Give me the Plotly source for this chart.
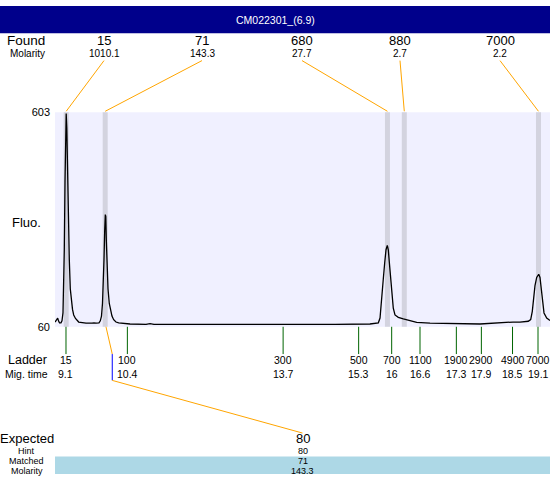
import plotly.graph_objects as go

W, H = 550, 480

# ---------------- data ----------------
trace_time = [8.867, 8.899, 8.924, 8.941, 8.962, 8.994, 9.015, 9.036, 9.051, 9.064,
              9.079, 9.094, 9.104, 9.117, 9.132, 9.149, 9.170, 9.191, 9.212, 9.238,
              9.263, 9.301, 9.369, 9.439, 9.524, 9.651, 9.693, 9.736, 9.799, 9.827,
              9.852, 9.873, 9.890, 9.905, 9.920, 9.933, 9.943, 9.954, 9.969, 9.990,
              10.017, 10.038, 10.074, 10.110, 10.159, 10.217, 10.350, 10.456, 10.795, 10.880,
              10.964, 11.940, 12.998, 14.058, 14.690, 14.800, 15.540, 15.717, 15.753, 15.774,
              15.795, 15.822, 15.852, 15.880, 15.907, 15.928, 15.950, 15.979, 16.007, 16.034,
              16.070, 16.140, 16.246, 16.388, 16.530, 16.812, 17.377, 17.871, 18.570, 18.719,
              18.894, 18.945, 18.979, 19.000, 19.036, 19.072, 19.115, 19.142, 19.170, 19.200,
              19.227, 19.284, 19.354]
trace_fluo = [72, 77, 82, 75, 70, 70, 75, 95, 156, 255,
              428, 576, 600, 563, 452, 329, 230, 156, 127, 104,
              90, 81, 72, 70, 69, 69, 70, 69, 70, 75,
              87, 119, 169, 230, 304, 344, 339, 280, 218, 156,
              119, 104, 87, 78, 72, 70, 68, 67, 66, 68,
              66, 66, 66, 66, 64.5, 66, 67, 70, 82, 107,
              140, 181, 222, 255, 266, 255, 223, 181, 140, 107,
              90, 84, 80, 76, 71, 69, 67, 67, 72, 72,
              74, 78, 99, 132, 164, 185, 193, 185, 156, 115,
              95, 82, 76]

found_size = ["15", "71", "680", "880", "7000"]
found_molarity = ["1010.1", "143.3", "27.7", "2.7", "2.2"]
found_time = [9.104, 9.930, 15.910, 16.267, 19.110]

ladder_size = ["15", "100", "300", "500", "700", "1100", "1900", "2900", "4900", "7000"]
ladder_time_label = ["9.1", "10.4", "13.7", "15.3", "16", "16.6", "17.3", "17.9", "18.5", "19.1"]
ladder_time = [9.1, 10.4, 13.7, 15.3, 16.0, 16.6, 17.37, 17.9, 18.56, 19.1]

expected_size = "80"
hint_size = "80"
matched_size = "71"
matched_molarity = "143.3"
matched_time = 9.930
expected_time = 10.08

y_ticks = [60, 603]
title_text = "CM022301_(6.9)"

# ---------------- layout geometry ----------------
X_RANGE = [8.867, 19.354]
Y_RANGE = [60, 603]
PL, PR, PT, PB = 55, 550, 109, 329  # plot area in pixels

FONT = "Arial, Liberation Sans, sans-serif"
ORANGE = "#FFA500"
GREEN = "#006400"


def px(x):
    return x / W


def py(y):
    return 1 - y / H


def t2px(t):
    return PL + (t - X_RANGE[0]) / (X_RANGE[1] - X_RANGE[0]) * (PR - PL)


def label(text, x, y, size, color="black"):
    return dict(text=text, x=px(x), y=py(y), xref="paper", yref="paper",
                xanchor="center", yanchor="middle", showarrow=False, borderpad=0,
                font=dict(family=FONT, size=size, color=color))


fig = go.Figure()

fig.add_trace(go.Scatter(x=trace_time, y=trace_fluo, mode="lines",
                         line=dict(color="black", width=1.3),
                         hoverinfo="skip", showlegend=False))

shapes = []
annotations = []

# title bar
shapes.append(dict(type="rect", xref="paper", yref="paper", x0=0, x1=1,
                   y0=py(28), y1=1, fillcolor="#00008B", line=dict(width=0), layer="below"))
annotations.append(label(title_text, 275, 14, 10.5, "white"))

# found peak bands + connectors
label_x = [104, 202, 302, 400, 500]
for i, t in enumerate(found_time):
    c = t2px(t)
    shapes.append(dict(type="rect", xref="paper", yref="paper",
                       x0=px(c - 2.5), x1=px(c + 2.5), y0=py(PB), y1=py(PT),
                       fillcolor="#D3D3DF", line=dict(width=0), layer="below"))
    shapes.append(dict(type="line", xref="paper", yref="paper",
                       x0=px(label_x[i]), y0=py(56), x1=px(c), y1=py(PT - 1),
                       line=dict(color=ORANGE, width=1)))
    annotations.append(label(found_size[i], label_x[i], 35, 13))
    annotations.append(label(found_molarity[i], label_x[i], 49, 10))

annotations.append(label("Found", 26, 35, 13.5))
annotations.append(label("Molarity", 27, 49, 10))
annotations.append(label("Fluo.", 26.5, 222, 13))

# ladder ticks and labels
for i, t in enumerate(ladder_time):
    c = t2px(t)
    shapes.append(dict(type="line", xref="paper", yref="paper",
                       x0=px(c), x1=px(c), y0=py(PB), y1=py(357),
                       line=dict(color=GREEN, width=1)))
    annotations.append(label(ladder_size[i], c, 363, 10.5))
    annotations.append(label(ladder_time_label[i], c, 377, 10.5))

annotations.append(label("Ladder", 27, 363, 12.5))
annotations.append(label("Mig. time", 26, 377, 10.5))

# matched / expected connector
mx = t2px(matched_time) + 0.8
ex = t2px(expected_time)
bx = (PL + W) / 2
shapes.append(dict(type="line", xref="paper", yref="paper", x0=px(mx), y0=py(PB),
                   x1=px(ex), y1=py(357), line=dict(color=ORANGE, width=1)))
shapes.append(dict(type="line", xref="paper", yref="paper", x0=px(ex), y0=py(357),
                   x1=px(ex), y1=py(384), line=dict(color="#0000FF", width=1)))
shapes.append(dict(type="line", xref="paper", yref="paper", x0=px(ex), y0=py(384),
                   x1=px(bx), y1=py(438), line=dict(color=ORANGE, width=1)))

# bottom table
shapes.append(dict(type="rect", xref="paper", yref="paper", x0=px(PL), x1=1,
                   y0=0, y1=py(462), fillcolor="#ADD8E6", line=dict(width=0), layer="below"))
rows = [("Expected", expected_size, 444, 13, 27),
        ("Hint", hint_size, 456.5, 9, 26),
        ("Matched", matched_size, 467, 9, 26),
        ("Molarity", matched_molarity, 476.5, 9, 27)]
for name, val, yy, fs, lx in rows:
    annotations.append(label(name, lx, yy, fs))
    annotations.append(label(val, bx, yy, fs))

fig.update_layout(
    width=W, height=H,
    margin=dict(l=0, r=0, t=0, b=0),
    paper_bgcolor="white",
    plot_bgcolor="#F0F0FF",
    showlegend=False,
    shapes=shapes,
    annotations=annotations,
    xaxis=dict(domain=[px(PL), 1], range=X_RANGE, showgrid=False, zeroline=False,
               showticklabels=False, ticks="", showline=False, fixedrange=True),
    yaxis=dict(domain=[py(PB), py(PT)], range=Y_RANGE, showgrid=False, zeroline=False,
               tickvals=y_ticks, ticktext=[str(v) for v in y_ticks], ticks="",
               ticklabelstandoff=4,
               tickfont=dict(family=FONT, size=11, color="black"), showline=False,
               fixedrange=True),
)

fig.write_html("out.html", config={"displayModeBar": False},
               post_script="document.body.style.margin='0';"
                           "document.body.style.overflow='hidden';")
